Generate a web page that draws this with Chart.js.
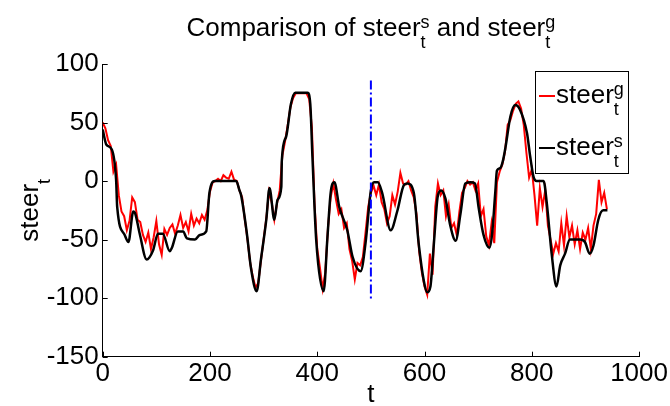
<!DOCTYPE html>
<html>
<head>
<meta charset="utf-8">
<script src="https://cdn.jsdelivr.net/npm/chart.js@4.4.1/dist/chart.umd.min.js"></script>
<style>
  html, body { margin: 0; padding: 0; background: #fff; }
  #wrap { width: 670px; height: 406px; }
</style>
</head>
<body>
<div id="wrap"><canvas id="myChart" width="670" height="406"></canvas></div>
<script>
// steer^g (red, noisy) sampled every 5 steps
const gTimes = [
    0, 5, 10, 15, 20, 25, 30, 35, 40, 45, 50, 55, 60, 65, 70, 75, 80, 85, 90, 95,
    100, 105, 110, 115, 120, 125, 130, 135, 140, 145, 150, 155, 160, 165, 170, 175, 180, 185, 190, 195,
    200, 205, 210, 215, 220, 225, 230, 235, 240, 245, 250, 255, 260, 265, 270, 275, 280, 285, 290, 295,
    300, 305, 310, 315, 320, 325, 330, 335, 340, 345, 350, 355, 360, 365, 370, 375, 380, 385, 390, 395,
    400, 405, 410, 415, 420, 425, 430, 435, 440, 445, 450, 455, 460, 465, 470, 475, 480, 485, 490, 495,
    500, 505, 510, 515, 520, 525, 530, 535, 540, 545, 550, 555, 560, 565, 570, 575, 580, 585, 590, 595,
    600, 605, 610, 615, 620, 625, 630, 635, 640, 645, 650, 655, 660, 665, 670, 675, 680, 685, 690, 695,
    700, 705, 710, 715, 720, 725, 730, 735, 740, 745, 750, 755, 760, 765, 770, 775, 780, 785, 790, 795,
    800, 805, 810, 815, 820, 825, 830, 835, 840, 845, 850, 855, 860, 865, 870, 875, 880, 885, 890, 895,
    900, 905, 910, 915, 920, 925, 930, 935, 940
];
const gValues = [
    50, 45, 35, 30, 8, 14, -12, -26, -30, -42, -34, -14, -18, -33, -35, -46, -52, -44, -58, -48,
    -34, -54, -63, -41, -46, -40, -37, -45, -38, -29, -40, -35, -43, -28, -38, -32, -36, -29, -33, -25,
    -9, -1, 0, 2, 0, 5, 3, 2, 8, 1, 0, -8, -14, -33, -50, -70, -82, -91, -87, -68,
    -50, -32, -9, -18, -33, -19, -8, 22, 34, 48, 63, 71, 75, 75, 75, 75, 75, 70, 46, -20,
    -58, -74, -92, -78, -40, -14, -2, -16, -28, -24, -40, -36, -58, -68, -84, -70, -72, -65, -44, -22,
    -10, -4, -12, -3, -18, -24, -36, -30, -12, -20, -9, 7, -2, -3, 0, -8, -14, -28, -60, -78,
    -90, -97, -62, -80, -22, -2, -12, -8, -30, -20, -40, -36, -46, -26, -10, -6, 0, -3, -1, -8,
    -2, -30, -24, -47, -55, -36, -53, -1, 8, 14, 25, 48, 52, 60, 66, 68, 62, 48, 24, 3,
    10, -12, -38, -6, -22, -8, -38, -50, -62, -53, -60, -36, -55, -30, -48, -38, -54, -42, -58, -44,
    -50, -40, -58, -38, -28, 1, -18, -10, -24
];

// steer^s (black, smooth)
const sTimes = [
    0, 7, 17, 25, 27, 41, 48, 57, 60, 69, 82, 94, 103, 112, 125, 129, 140, 150, 157, 172,
    181, 193, 199, 209, 249, 255, 258, 268, 277, 287, 295, 305, 311, 320, 326, 333, 334, 342, 351, 359,
    382, 387, 391, 398, 412, 419, 425, 432, 441, 456, 466, 481, 490, 500, 506, 513, 521, 537, 549, 562,
    568, 580, 589, 599, 605, 611, 617, 625, 631, 639, 648, 658, 667, 676, 686, 694, 701, 710, 721, 726,
    732, 735, 741, 746, 751, 760, 769, 778, 791, 797, 803, 809, 822, 828, 837, 846, 853, 862, 871, 890,
    899, 908, 915, 924, 933, 941
];
const sValues = [
    44, 31, 27, 1, -22, -46, -52, -26, -27, -45, -67, -59, -45, -45, -60, -57, -43, -43, -49, -50,
    -46, -43, -10, 0, 0, -8, -12, -42, -76, -94, -67, -33, -6, -33, -16, -5, 18, 38, 66, 75.5,
    75.5, 66, 21, -50, -94, -48, -10, -1, -22, -42, -65, -77, -53, -8, -1, -1, -10, -42, -26, -3,
    -2, -10, -53, -86, -95, -90, -56, -12, -8, -15, -38, -51, -28, -2, -1, -2, -23, -46, -57, -45,
    -9, 9, 11, 17, 29, 55, 65, 61, 41, 21, 4, 0, 0, -19, -62, -90, -72, -62, -50, -50,
    -52, -62, -55, -33, -25, -25
];

// vertical marker
const markerTime = 500;
const markerRange = [86, -102];

const xTicks = [0, 200, 400, 600, 800, 1000];
const yTicks = [-150, -100, -50, 0, 50, 100];

const FONT = '"Liberation Sans", Arial, Helvetica, sans-serif';
const BIG = 26;
const SMALL = 18;

function toPoints(times, values) {
    return times.map((t, i) => ({ x: t, y: values[i] }));
}

// text with stacked super/subscripts, e.g. steer^s_t
function richWidth(ctx, parts) {
    let w = 0;
    parts.forEach(p => {
        if (p.text !== undefined) {
            ctx.font = `${BIG}px ${FONT}`;
            w += ctx.measureText(p.text).width;
        } else {
            ctx.font = `${SMALL}px ${FONT}`;
            w += Math.max(ctx.measureText(p.sup || '').width, ctx.measureText(p.sub || '').width);
        }
    });
    return w;
}

function drawRich(ctx, parts, x, y) {
    ctx.textAlign = 'left';
    ctx.textBaseline = 'alphabetic';
    let cx = x;
    parts.forEach(p => {
        if (p.text !== undefined) {
            ctx.font = `${BIG}px ${FONT}`;
            ctx.fillText(p.text, cx, y);
            cx += ctx.measureText(p.text).width;
        } else {
            ctx.font = `${SMALL}px ${FONT}`;
            if (p.sup) ctx.fillText(p.sup, cx, y - 8);
            if (p.sub) ctx.fillText(p.sub, cx, y + 12);
            cx += Math.max(ctx.measureText(p.sup || '').width, ctx.measureText(p.sub || '').width);
        }
    });
}

const decorPlugin = {
    id: 'decor',
    afterDraw(chart) {
        const ctx = chart.ctx;
        const area = chart.chartArea;
        const xs = chart.scales.x;
        const ys = chart.scales.y;
        ctx.save();
        ctx.fillStyle = '#000';
        ctx.strokeStyle = '#000';
        ctx.lineWidth = 1;

        // inward tick marks
        ctx.beginPath();
        yTicks.forEach(v => {
            const py = Math.round(ys.getPixelForValue(v)) + 0.5;
            ctx.moveTo(area.left, py);
            ctx.lineTo(area.left + 5, py);
        });
        xTicks.forEach(v => {
            const px = Math.round(xs.getPixelForValue(v)) + 0.5;
            ctx.moveTo(px, area.bottom);
            ctx.lineTo(px, area.bottom - 5);
        });
        ctx.stroke();

        // title
        const title = [{ text: 'Comparison of steer' }, { sup: 's', sub: 't' }, { text: ' and steer' }, { sup: 'g', sub: 't' }];
        const tw = richWidth(ctx, title);
        drawRich(ctx, title, (area.left + area.right) / 2 - tw / 2, 36);

        // x axis label
        ctx.font = `${BIG}px ${FONT}`;
        ctx.textAlign = 'center';
        ctx.fillText('t', (area.left + area.right) / 2, 402);

        // y axis label
        const ylab = [{ text: 'steer' }, { sub: 't' }];
        const yw = richWidth(ctx, ylab);
        ctx.save();
        ctx.translate(38, (area.top + area.bottom) / 2 + yw / 2);
        ctx.rotate(-Math.PI / 2);
        drawRich(ctx, ylab, 0, 0);
        ctx.restore();

        // legend
        const lx = 535.5, ly = 71.5, lw = 93, lh = 102;
        ctx.fillStyle = '#fff';
        ctx.fillRect(lx, ly, lw, lh);
        ctx.strokeStyle = '#000';
        ctx.strokeRect(lx, ly, lw, lh);
        const entries = [
            { color: 'rgb(255,0,0)', sup: 'g', y: 103 },
            { color: '#000', sup: 's', y: 155 }
        ];
        entries.forEach(e => {
            ctx.strokeStyle = e.color;
            ctx.lineWidth = 2;
            ctx.beginPath();
            ctx.moveTo(539, e.y - 7);
            ctx.lineTo(555, e.y - 7);
            ctx.stroke();
            ctx.fillStyle = '#000';
            drawRich(ctx, [{ text: 'steer' }, { sup: e.sup, sub: 't' }], 556, e.y);
        });
        ctx.restore();
    }
};

const ctx = document.getElementById('myChart').getContext('2d');
new Chart(ctx, {
    type: 'line',
    data: {
        datasets: [
            {
                label: 'marker',
                data: toPoints([markerTime, markerTime], markerRange),
                borderColor: 'rgb(0,0,255)',
                borderWidth: 2,
                borderDash: [9, 3, 2, 3],
                pointRadius: 0,
                order: 0
            },
            {
                label: 'steer_s',
                data: toPoints(sTimes, sValues),
                borderColor: '#000',
                borderWidth: 2.5,
                pointRadius: 0,
                cubicInterpolationMode: 'monotone',
                borderJoinStyle: 'round',
                order: 1
            },
            {
                label: 'steer_g',
                data: toPoints(gTimes, gValues),
                borderColor: 'rgb(255,0,0)',
                borderWidth: 2,
                pointRadius: 0,
                tension: 0,
                order: 2
            }
        ]
    },
    options: {
        responsive: false,
        animation: false,
        devicePixelRatio: 1,
        layout: { padding: { top: 64, right: 29, left: 0, bottom: 0 } },
        plugins: {
            legend: { display: false },
            title: { display: false },
            tooltip: { enabled: false }
        },
        scales: {
            x: {
                type: 'linear',
                min: 0,
                max: 1000,
                afterBuildTicks: s => { s.ticks = xTicks.map(v => ({ value: v })); },
                afterFit: s => { s.height = 49.3; },
                grid: { display: false, drawTicks: false },
                border: { display: true, color: '#000', width: 1 },
                ticks: { color: '#000', padding: 2, maxRotation: 0, font: { family: FONT, size: BIG }, callback: v => String(v) }
            },
            y: {
                type: 'linear',
                min: -150,
                max: 100,
                afterBuildTicks: s => { s.ticks = yTicks.map(v => ({ value: v })); },
                afterFit: s => { s.width = 102.7; },
                grid: { display: false, drawTicks: false },
                border: { display: true, color: '#000', width: 1 },
                ticks: { color: '#000', padding: 4, font: { family: FONT, size: BIG }, callback: v => String(v) }
            }
        }
    },
    plugins: [decorPlugin]
});
</script>
</body>
</html>
